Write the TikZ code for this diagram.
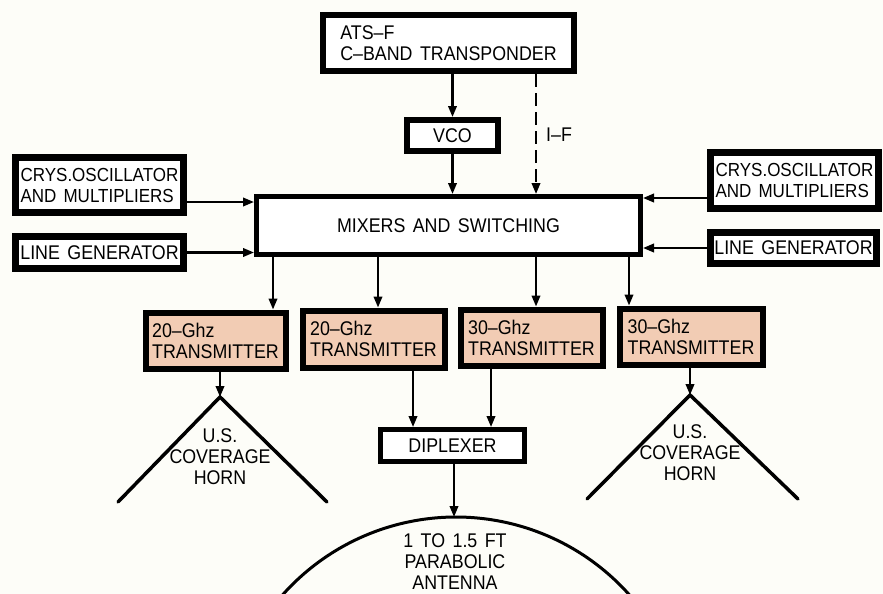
\documentclass[tikz,border=0pt]{standalone}
\usepackage{fontspec}
\setmainfont{Liberation Sans}[FakeStretch=0.9,WordSpace=1.5]
\usetikzlibrary{arrows.meta}
\definecolor{bgc}{RGB}{253,253,248}
\definecolor{peach}{RGB}{242,204,180}
\tikzset{
  box/.style={draw=black, line width=6pt, fill=white, inner sep=0pt, align=center},
  txbox/.style={box, fill=peach, align=left},
  crys/.style={box, line width=7pt, align=left, font=\fontsize{18.9}{21}\selectfont},
  arr/.style={line width=2.2pt, -{Triangle[length=11pt,width=8.5pt]}},
  hornline/.style={line width=3.5pt, line cap=round},
  lbl/.style={align=center, inner sep=0pt}
}
\begin{document}
\begin{tikzpicture}[x=1pt,y=-1pt,font=\fontsize{19.8}{21}\selectfont]
\useasboundingbox (0,0) rectangle (883,594);
\fill[bgc] (0,0) rectangle (883,594);
% boxes
\node[box, align=left, minimum width=251, minimum height=56] (ats) at (448.5,43) {ATS--F\\C--BAND TRANSPONDER};
\node[box, minimum width=91, minimum height=31] (vco) at (452.5,135.5) {VCO};
\node[box, line width=5pt, minimum width=384, minimum height=58] (mix) at (448.5,225.5) {MIXERS AND SWITCHING};
\node[crys, minimum width=168, minimum height=55] (crysL) at (99.5,185) {CRYS.OSCILLATOR\\AND MULTIPLIERS};
\node[box, line width=7pt, minimum width=168, minimum height=32] (lineL) at (99.5,252.5) {LINE GENERATOR};
\node[crys, minimum width=168, minimum height=56] (crysR) at (794.5,180.5) {CRYS.OSCILLATOR\\AND MULTIPLIERS};
\node[box, line width=7pt, minimum width=166, minimum height=31] (lineR) at (793.5,248) {LINE GENERATOR};
\node[txbox, minimum width=140, minimum height=56] (t1) at (215.5,340.5) {20--Ghz\\TRANSMITTER};
\node[txbox, minimum width=142, minimum height=57] (t2) at (373.5,339) {20--Ghz\\TRANSMITTER};
\node[txbox, minimum width=142, minimum height=56] (t3) at (531.5,337.5) {30--Ghz\\TRANSMITTER};
\node[txbox, minimum width=143, minimum height=56] (t4) at (691,336.5) {30--Ghz\\TRANSMITTER};
\node[box, line width=5pt, minimum width=144, minimum height=32] (dip) at (452.5,445.5) {DIPLEXER};
% top connectors
\draw[arr] (vco.north |- ats.south) -- (vco.north);
\draw[arr] (vco.south) -- (vco.south |- mix.north);
\coordinate (ifs) at ([xshift=87.5pt]ats.south);
\draw[arr, dash pattern=on 13pt off 6pt] (ifs) -- (ifs |- mix.north);
\node[lbl, anchor=west] (iflbl) at (546,135) {I--F};
% side inputs
\coordinate (cl) at ([yshift=-17pt]crysL.east);
\draw[arr] (cl) -- (cl -| mix.west);
\draw[arr] (lineL.east) -- (lineL.east -| mix.west);
\coordinate (cr) at ([yshift=-17.5pt]crysR.west);
\draw[arr] (cr) -- (cr -| mix.east);
\draw[arr] (lineR.west) -- (lineR.west -| mix.east);
% mixer outputs
\coordinate (m1) at ([xshift=-175.5pt]mix.south);
\coordinate (m2) at ([xshift=-70.5pt]mix.south);
\coordinate (m3) at ([xshift=87.5pt]mix.south);
\coordinate (m4) at ([xshift=180.5pt]mix.south);
\draw[arr] (m1) -- (m1 |- t1.north);
\draw[arr] (m2) -- (m2 |- t2.north);
\draw[arr] (m3) -- (m3 |- t3.north);
\draw[arr] (m4) -- (m4 |- t4.north);
% horns
\coordinate (h1) at (220,397);
\coordinate (h1l) at (118,502);
\coordinate (h1r) at (327,502);
\draw[arr] (t1.south -| h1) -- (h1);
\draw[hornline] (h1l) -- (h1) -- (h1r);
\node[lbl] (h1t) at (220,457) {U.S.\\COVERAGE\\HORN};
\coordinate (h2) at (690,395);
\coordinate (h2l) at (587,499);
\coordinate (h2r) at (798,499);
\draw[arr] (t4.south -| h2) -- (h2);
\draw[hornline] (h2l) -- (h2) -- (h2r);
\node[lbl] (h2t) at (690,453) {U.S.\\COVERAGE\\HORN};
% diplexer
\coordinate (d2) at ([xshift=39.5pt]t2.south);
\coordinate (d3) at ([xshift=-40.5pt]t3.south);
\draw[arr] (d2) -- (d2 |- dip.north);
\draw[arr] (d3) -- (d3 |- dip.north);
% antenna
\coordinate (ant) at (454,517);
\draw[arr] (dip.south -| ant) -- (ant);
\draw[line width=3pt] plot[domain=41.5:138.5, samples=80, smooth] ({456+232*cos(\x)}, {749-232*sin(\x)});
\node[lbl] (antt) at (455,562) {1 TO 1.5 FT\\PARABOLIC\\ANTENNA};
\end{tikzpicture}
\end{document}
